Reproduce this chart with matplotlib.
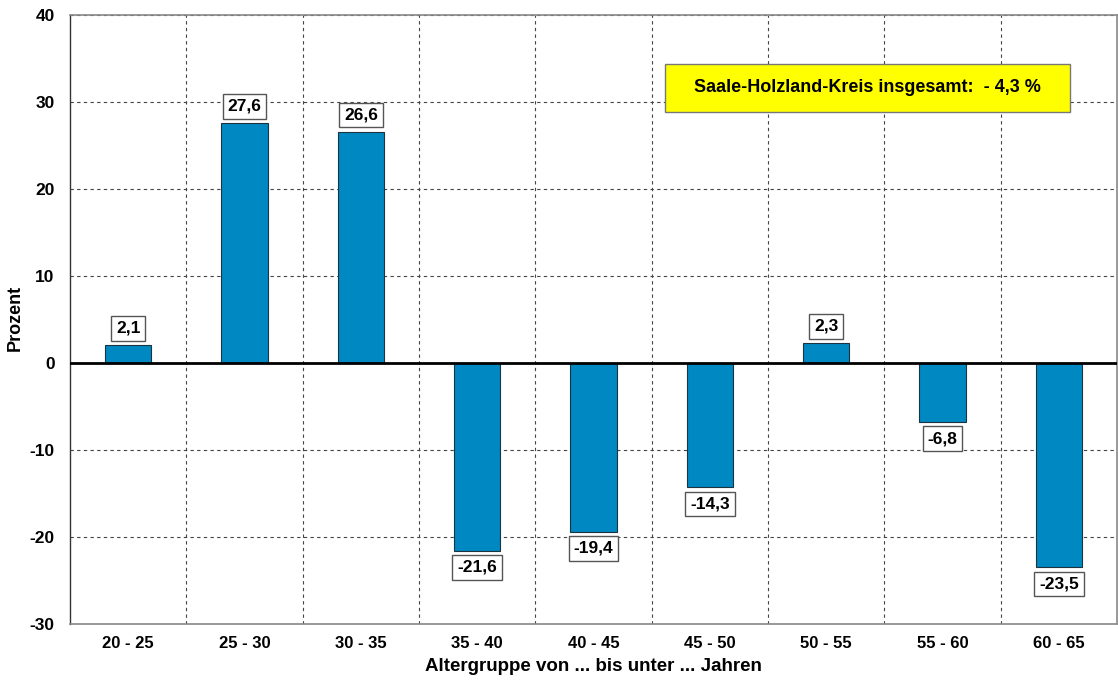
import matplotlib
matplotlib.use("Agg")
import matplotlib.pyplot as plt
from matplotlib.patches import Rectangle
import numpy as np

categories = ["20 - 25", "25 - 30", "30 - 35", "35 - 40", "40 - 45",
              "45 - 50", "50 - 55", "55 - 60", "60 - 65"]
values = [2.1, 27.6, 26.6, -21.6, -19.4, -14.3, 2.3, -6.8, -23.5]
yticks = [-30, -20, -10, 0, 10, 20, 30, 40]
note = "Saale-Holzland-Kreis insgesamt:  - 4,3 %"

plt.rcParams['font.family'] = ['Liberation Sans', 'DejaVu Sans']
plt.rcParams['font.weight'] = 'bold'

fig = plt.figure(figsize=(11.18, 6.8), dpi=100)
ax = fig.add_axes([70/1118, 56/680, 1047/1118, 609/680])

x = np.arange(len(categories))
ax.bar(x, values, width=0.4, color="#0088C2", edgecolor="#1c3440", linewidth=0.8, zorder=3)

ax.set_xlim(-0.5, len(categories) - 0.5)
ax.set_ylim(-30, 40)
ax.set_yticks(yticks)
ax.set_yticklabels([str(t) for t in yticks], fontsize=12.5, fontweight='bold')
ax.set_xticks(x)
ax.set_xticklabels(categories, fontsize=12, fontweight='bold')
ax.tick_params(axis='x', length=0, pad=9)
ax.tick_params(axis='y', length=0, pad=11)

for yv in yticks:
    if yv != 0:
        ax.axhline(yv, color="#444444", linestyle=(0, (3, 3)), linewidth=0.8, zorder=1)
for b in np.arange(0.5, len(categories) - 0.5, 1.0):
    ax.axvline(b, color="#444444", linestyle=(0, (3, 3)), linewidth=0.8, zorder=1)
ax.axhline(0, color="black", linewidth=2, zorder=4)

for s in ['top', 'right', 'bottom']:
    ax.spines[s].set_color("#888888")
    ax.spines[s].set_linewidth(1.2)
ax.spines['left'].set_color("#333333")
ax.spines['left'].set_linewidth(1)

for xi, v in zip(x, values):
    lbl = f"{v:.1f}".replace('.', ',')
    off = 6.5 if v >= 0 else -6.5
    ax.annotate(lbl, (xi, v), xytext=(0, off), textcoords='offset points',
                ha='center', va='bottom' if v >= 0 else 'top',
                fontsize=12.5, fontweight='bold',
                bbox=dict(boxstyle='square,pad=0.28', fc='white', ec='#555555', lw=1), zorder=5)

# summary box
fig.patches.append(Rectangle((665/1118, 1 - 112/680), 405/1118, 48/680,
                             transform=fig.transFigure, fc='#FFFF00', ec='#777777', lw=1, zorder=6))
fig.text(867/1118, 1 - 88/680, note, ha='center', va='center', fontsize=13, fontweight='bold', zorder=7)

fig.text(15/1118, 1 - 318/680, "Prozent", rotation=90, ha='center', va='center',
         fontsize=13, fontweight='bold')
ax.set_xlabel("Altergruppe von ... bis unter ... Jahren", fontsize=13.5, fontweight='bold', labelpad=5)

fig.savefig("out.png", dpi=100)
